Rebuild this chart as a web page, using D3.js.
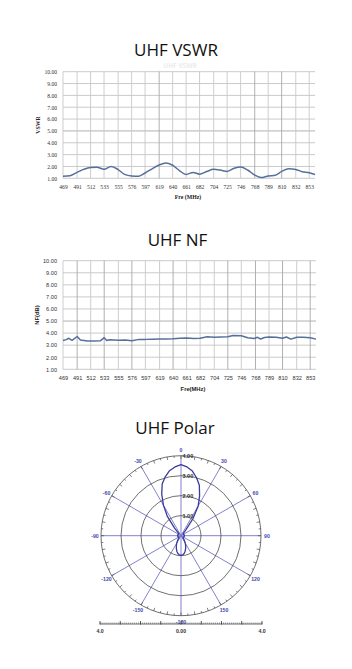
<!DOCTYPE html>
<html><head><meta charset="utf-8">
<script src="https://cdn.jsdelivr.net/npm/d3@7"></script>
<style>body{margin:0;background:#fff} svg{display:block}</style>
</head><body><svg id="c" width="352" height="669"></svg>
<script>
// ---------- DATA ----------
const freqTicks = [469,491,512,533,555,576,597,619,640,661,682,704,725,746,768,789,810,832,853];
const yTicks = [1,2,3,4,5,6,7,8,9,10];

const vswrFreq = [469,480,491,501,512,522,533,544,555,565,576,587,597,608,619,629,640,651,661,672,682,693,704,714,725,736,746,757,768,778,789,800,810,821,832,842,853,862];
const vswrValues = [1.18,1.22,1.50,1.75,1.92,1.94,1.76,2.00,1.74,1.33,1.20,1.18,1.45,1.80,2.12,2.30,2.10,1.63,1.33,1.50,1.35,1.57,1.76,1.70,1.58,1.85,1.96,1.70,1.27,1.06,1.20,1.25,1.58,1.80,1.75,1.55,1.47,1.32];

const nfFreq = [469,474,478,483,491,496,507,517,527,533,537,541,555,566,576,587,597,608,619,629,640,651,661,672,682,693,704,714,725,733,746,756,766,771,776,782,789,800,810,816,823,832,842,853,862];
const nfValues = [3.38,3.46,3.57,3.40,3.72,3.43,3.35,3.35,3.36,3.62,3.38,3.45,3.40,3.42,3.37,3.48,3.48,3.50,3.51,3.52,3.54,3.58,3.60,3.55,3.57,3.70,3.65,3.68,3.70,3.80,3.78,3.62,3.55,3.65,3.51,3.64,3.67,3.65,3.57,3.68,3.50,3.65,3.65,3.62,3.50];

const polarAngles = [0,5,10,15,20,25,30,35,40,45,50,55,60,65,70,75,80,85,90,95,100,105,110,115,120,125,130,135,140,145,150,155,160,165,170,175,180,
  -175,-170,-165,-160,-155,-150,-145,-140,-135,-130,-125,-120,-115,-110,-105,-100,-95,-90,-85,-80,-75,-70,-65,-60,-55,-50,-45,-40,-35,-30,-25,-20,-15,-10,-5];
const polarGain = [3.55,3.45,3.28,3.00,2.68,2.20,1.72,1.05,0.38,0.15,0.14,0.14,0.15,0.15,0.16,0.16,0.17,0.17,0.17,0.17,0.16,0.16,0.15,0.15,0.14,0.14,0.13,0.14,0.20,0.30,0.42,0.55,0.68,0.80,0.90,0.96,0.98,
  0.96,0.90,0.80,0.68,0.55,0.42,0.30,0.20,0.14,0.13,0.14,0.14,0.15,0.15,0.16,0.16,0.17,0.17,0.17,0.17,0.16,0.16,0.15,0.15,0.14,0.14,0.16,0.50,1.20,1.75,2.28,2.75,3.05,3.30,3.45];

const spokeAngles = [0,30,60,90,120,150,180,-150,-120,-90,-60,-30];
const spokeLabels = ["0","30","60","90","120","150","-180","-150","-120","-90","-60","-30"];
const ringValues = [1,2,3,4];
const ringLabels = ["1.00","2.00","3.00","4.00"];
const scaleTicks = [-4,-3,-2,-1,0,1,2,3,4];
const scaleLabels = [{v:-4,t:"4.0"},{v:0,t:"0.00"},{v:4,t:"4.0"}];

// ---------- DRAW ----------
const svg = d3.select("#c");

function title(txt, cx, y){
  svg.append("text").attr("x",cx).attr("y",y).attr("text-anchor","middle")
    .attr("font-family","'Open Sans', sans-serif").attr("font-size",17).attr("fill","#111").text(txt);
}

function lineChart(o){
  const x = d3.scaleLinear().domain([469,862]).range([o.left,o.right]);
  const y = d3.scaleLinear().domain([1,10]).range([o.bottom,o.top]);
  const g = svg.append("g");
  // grid
  g.selectAll(".hg").data(yTicks).join("line")
    .attr("x1",o.left).attr("x2",o.right).attr("y1",d=>y(d)).attr("y2",d=>y(d))
    .attr("stroke",d=>d===5?"#a8a8a8":"#c4c4c4").attr("stroke-width",0.9);
  g.selectAll(".vg").data(freqTicks).join("line")
    .attr("x1",d=>x(d)).attr("x2",d=>x(d)).attr("y1",o.top).attr("y2",o.bottom)
    .attr("stroke",(d,i)=>o.dark.includes(i)?"#a8a8a8":"#c8c8c8").attr("stroke-width",0.9);
  // axes labels
  const yAxis = d3.axisLeft(y).tickValues(yTicks).tickFormat(d3.format(".2f")).tickSize(0).tickPadding(6);
  const ya = g.append("g").attr("transform",`translate(${o.left},0)`).call(yAxis);
  ya.select(".domain").remove();
  ya.selectAll("text").attr("font-family",o.font).attr("font-size",5.6).attr("fill","#333");
  const xAxis = d3.axisBottom(x).tickValues(freqTicks).tickFormat(d3.format("d")).tickSize(0).tickPadding(7);
  const xa = g.append("g").attr("transform",`translate(0,${o.bottom})`).call(xAxis);
  xa.select(".domain").remove();
  xa.selectAll("text").attr("font-family",o.font).attr("font-size",5.6).attr("fill","#333");
  // axis titles
  g.append("text").attr("transform",`translate(${o.ytx},${(o.top+o.bottom)/2}) rotate(-90)`)
    .attr("text-anchor","middle").attr("font-family",o.font).attr("font-weight","bold")
    .attr("font-size",5.8).attr("fill","#222").text(o.ytitle);
  g.append("text").attr("x",o.xtx).attr("y",o.xty).attr("text-anchor","middle")
    .attr("font-family",o.font).attr("font-weight","bold").attr("font-size",5.8).attr("fill","#222").text(o.xtitle);
  // line
  const line = d3.line().x((d,i)=>x(o.fx[i])).y(d=>y(d)).curve(o.curve);
  g.append("path").datum(o.vals).attr("d",line).attr("fill","none")
    .attr("stroke","#56709c").attr("stroke-width",1.5).attr("stroke-linejoin","round");
}

// Titles
svg.append("text").attr("x",180).attr("y",67.5).attr("text-anchor","middle")
  .attr("font-family","'Open Sans', sans-serif").attr("font-weight","bold").attr("font-size",6.5)
  .attr("fill","#ececec").text("UHF VSWR");
title("UHF VSWR",176,56);
title("UHF NF",177.5,245.5);
title("UHF Polar",175,434);

lineChart({left:63,right:315,top:71.7,bottom:178.3,fx:vswrFreq,vals:vswrValues,curve:d3.curveMonotoneX,
  font:"'Liberation Serif', serif",ytitle:"VSWR",xtitle:"Fre (MHz)",ytx:40,xtx:188,xty:198.5,dark:[7,14,16]});
lineChart({left:63,right:316,top:260.7,bottom:369.3,fx:nfFreq,vals:nfValues,curve:d3.curveLinear,
  font:"'Liberation Sans', sans-serif",ytitle:"NF(dB)",xtitle:"Fre(MHz)",ytx:38.5,xtx:193,xty:391,dark:[1,3,5,8,12,14,16,18]});

// ---------- POLAR ----------
const cx = 181, cy = 535.7;
const r = d3.scaleLinear().domain([0,4]).range([0,80]);
const pg = svg.append("g").attr("transform",`translate(${cx},${cy})`);
const rad = a => a*Math.PI/180;

// spokes
pg.selectAll(".sp").data(spokeAngles).join("line")
  .attr("x1",0).attr("y1",0)
  .attr("x2",d=>r(4)*Math.sin(rad(d))).attr("y2",d=>-r(4)*Math.cos(rad(d)))
  .attr("stroke","#7474c8").attr("stroke-width",0.9);
// rings
pg.selectAll(".rg").data(ringValues).join("circle")
  .attr("r",d=>r(d)).attr("fill","none").attr("stroke","#4a4a4a").attr("stroke-width",0.8);
// outer ticks
const tickAngles = d3.range(0,360,5);
pg.selectAll(".tk").data(tickAngles).join("line")
  .attr("x1",d=>r(4)*Math.sin(rad(d))).attr("y1",d=>-r(4)*Math.cos(rad(d)))
  .attr("x2",d=>(r(4)-(d%10===0?3.2:2))*Math.sin(rad(d))).attr("y2",d=>-(r(4)-(d%10===0?3.2:2))*Math.cos(rad(d)))
  .attr("stroke","#4a4a4a").attr("stroke-width",0.7);
// pattern
const radial = d3.lineRadial().angle((d,i)=>rad(polarAngles[i])).radius(d=>r(d)).curve(d3.curveLinearClosed);
pg.append("path").datum(polarGain).attr("d",radial).attr("fill","none")
  .attr("stroke","#3b3b9c").attr("stroke-width",1.3).attr("stroke-linejoin","round");
// ring labels
pg.selectAll(".rl").data(ringValues).join("text")
  .attr("x",1.5).attr("y",d=>-r(d)+2).attr("font-family","'Liberation Sans', sans-serif")
  .attr("font-weight","bold").attr("font-size",5.5).attr("fill","#333").text((d,i)=>ringLabels[i]);
// spoke labels
pg.selectAll(".sl").data(spokeAngles).join("text")
  .attr("x",d=>86*Math.sin(rad(d))).attr("y",d=>-86*Math.cos(rad(d))+2)
  .attr("text-anchor","middle").attr("font-family","'Liberation Sans', sans-serif")
  .attr("font-weight","bold").attr("font-size",5.2).attr("fill","#4848b0").text((d,i)=>spokeLabels[i]);

// bottom scale
const sx = d3.scaleLinear().domain([-4,4]).range([cx-81,cx+81]);
const sy = 624;
svg.append("line").attr("x1",sx(-4)).attr("x2",sx(4)).attr("y1",sy).attr("y2",sy).attr("stroke","#444").attr("stroke-width",0.8);
svg.selectAll(".mn").data(d3.range(-40,41).map(d=>d/10)).join("line")
  .attr("x1",d=>sx(d)).attr("x2",d=>sx(d)).attr("y1",sy).attr("y2",sy-1.6)
  .attr("stroke","#555").attr("stroke-width",0.5);
svg.selectAll(".mj").data(scaleTicks).join("line")
  .attr("x1",d=>sx(d)).attr("x2",d=>sx(d)).attr("y1",sy+0.5).attr("y2",sy-3)
  .attr("stroke","#333").attr("stroke-width",0.8);
svg.selectAll(".slb").data(scaleLabels).join("text")
  .attr("x",d=>sx(d.v)).attr("y",sy+8.5).attr("text-anchor","middle")
  .attr("font-family","'Liberation Sans', sans-serif").attr("font-weight","bold").attr("font-size",5.2)
  .attr("fill","#333").text(d=>d.t);
</script></body></html>
